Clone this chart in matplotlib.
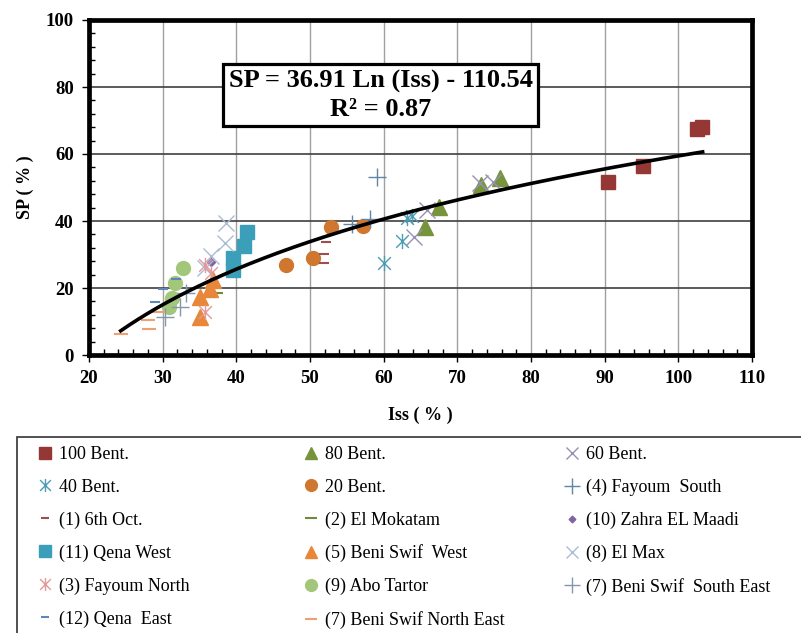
import numpy as np
import matplotlib
matplotlib.use("Agg")
import matplotlib.pyplot as plt
from matplotlib.path import Path
from matplotlib.lines import Line2D
from matplotlib.patches import Rectangle
from matplotlib.ticker import MultipleLocator

plt.rcParams['font.family'] = ['Liberation Serif', 'DejaVu Serif']

# trend: SP = 36.91 ln(Iss) - 110.54
coef_a = 36.91
coef_b = -110.54
trend_xmin, trend_xmax = 24.3, 103.3

# data (Iss %, SP %)
bent100_x = [90.4, 95.2, 102.5, 103.2]
bent100_y = [51.7, 56.4, 67.4, 68.1]
bent80_x = [65.6, 67.5, 73.2, 75.8]
bent80_y = [38.3, 44.3, 50.7, 52.7]
bent60_x = [64.1, 65.9, 73.1, 74.8]
bent60_y = [35.1, 43.3, 51.4, 51.7]
bent40_x = [60.0, 62.5, 63.1, 63.9]
bent40_y = [27.6, 34.1, 40.8, 41.5]
bent20_x = [46.7, 50.4, 52.9, 57.2]
bent20_y = [26.9, 29.0, 38.1, 38.5]
fayoum_s_x = [55.7, 58.1, 59.1]
fayoum_s_y = [39.1, 40.6, 53.2]
oct6_x = [51.9, 51.9, 52.2]
oct6_y = [27.4, 30.1, 33.6]
mokatam_x = [37.2]
mokatam_y = [18.6]
zahra_x = [36.6]
zahra_y = [27.8]
qena_w_x = [39.5, 39.6, 41.0, 41.5]
qena_w_y = [25.4, 28.9, 32.5, 36.8]
beni_w_x = [35.0, 35.1, 36.4, 36.8]
beni_w_y = [11.3, 17.4, 19.6, 22.4]
elmax_x = [35.8, 36.5, 38.4, 38.6]
elmax_y = [26.1, 29.6, 33.3, 39.3]
fayoum_n_x = [35.8, 35.8, 36.6]
fayoum_n_y = [12.9, 26.9, 24.4]
abo_x = [30.9, 31.2, 31.7, 32.7]
abo_y = [14.2, 16.9, 21.4, 26.1]
beni_se_x = [30.3, 32.3, 33.2]
beni_se_y = [11.3, 14.4, 18.4]
qena_e_x = [29.0, 30.1, 31.8]
qena_e_y = [15.9, 19.6, 22.7]
beni_ne_x = [24.3, 28.0, 28.2, 29.4]
beni_ne_y = [6.2, 10.4, 7.9, 12.9]

star = Path([(-1, -1), (1, 1), (-1, 1), (1, -1), (0, -1.2), (0, 1.2)],
            [Path.MOVETO, Path.LINETO, Path.MOVETO, Path.LINETO, Path.MOVETO, Path.LINETO])

# label, x, y, style
series = [
    ("100 Bent.", bent100_x, bent100_y, dict(marker='s', color='#953735', ms=10)),
    ("80 Bent.", bent80_x, bent80_y, dict(marker='^', color='#77933C', ms=11)),
    ("60 Bent.", bent60_x, bent60_y, dict(marker='x', color='#9590B4', ms=11, mew=1.0)),
    ("40 Bent.", bent40_x, bent40_y, dict(marker=star, color='#4A9DB5', ms=11, mew=1.0)),
    ("20 Bent.", bent20_x, bent20_y, dict(marker='o', color='#D0772F', ms=10)),
    ("(4) Fayoum  South", fayoum_s_x, fayoum_s_y, dict(marker='+', color='#5F86A8', ms=13, mew=1.0)),
    ("(1) 6th Oct.", oct6_x, oct6_y, dict(marker='_', color='#9B4F4F', ms=7, mew=1.5)),
    ("(2) El Mokatam", mokatam_x, mokatam_y, dict(marker='_', color='#6E8A3A', ms=10, mew=1.5)),
    ("(10) Zahra EL Maadi", zahra_x, zahra_y, dict(marker='D', color='#7F64A2', ms=4)),
    ("(11) Qena West", qena_w_x, qena_w_y, dict(marker='s', color='#3C9FBA', ms=10)),
    ("(5) Beni Swif  West", beni_w_x, beni_w_y, dict(marker='^', color='#E8873A', ms=11)),
    ("(8) El Max", elmax_x, elmax_y, dict(marker='x', color='#A9BCD8', ms=11, mew=1.0)),
    ("(3) Fayoum North", fayoum_n_x, fayoum_n_y, dict(marker=star, color='#E3999A', ms=11, mew=1.0)),
    ("(9) Abo Tartor", abo_x, abo_y, dict(marker='o', color='#A3C77A', ms=10)),
    ("(7) Beni Swif  South East", beni_se_x, beni_se_y, dict(marker='+', color='#8497B0', ms=13, mew=1.0)),
    ("(12) Qena  East", qena_e_x, qena_e_y, dict(marker='_', color='#5F86B8', ms=7, mew=1.5)),
    ("(7) Beni Swif North East", beni_ne_x, beni_ne_y, dict(marker='_', color='#F0A070', ms=10, mew=1.5)),
]

fig = plt.figure(figsize=(8.01, 6.33), dpi=100)
ax = fig.add_axes([89 / 801, 1 - 355 / 633, (752 - 89) / 801, (355 - 20) / 633])

handles = {}
for label, xs, ys, st in series:
    st = dict(st)
    ms = st.pop('ms')
    mew = st.pop('mew', 1.0)
    ax.plot(xs, ys, linestyle='none', markersize=ms, markeredgewidth=mew, zorder=3, **st)
    handles[label] = Line2D([], [], linestyle='none', markersize=ms * 0.85, markeredgewidth=mew, **st)

xt = np.linspace(trend_xmin, trend_xmax, 200)
ax.plot(xt, coef_a * np.log(xt) + coef_b, color='black', lw=2.6, zorder=4)

ax.text(59.6, 77.5, "SP = 36.91 Ln (Iss) - 110.54\nR\u00b2 = 0.87", ha='center', va='center',
        fontsize=19, fontweight='bold', linespacing=1.25, zorder=5,
        bbox=dict(boxstyle='square,pad=0.2', facecolor='white', edgecolor='black', linewidth=2.3))

ax.set_xlim(20, 110)
ax.set_ylim(0, 100)
ax.xaxis.set_major_locator(MultipleLocator(10))
ax.xaxis.set_minor_locator(MultipleLocator(2))
ax.yaxis.set_major_locator(MultipleLocator(20))
ax.yaxis.set_minor_locator(MultipleLocator(4))
ax.tick_params(which='major', direction='out', length=5, width=1, labelsize=13.5, pad=6)
ax.tick_params(which='minor', direction='in', length=4, width=1)
for lab in ax.get_xticklabels() + ax.get_yticklabels():
    lab.set_fontweight('bold')
ax.xaxis.grid(True, which='major', color='#A0A0A0', lw=1)
ax.yaxis.grid(True, which='major', color='#404040', lw=1.2)
ax.set_axisbelow(True)
for sp in ax.spines.values():
    sp.set_linewidth(3.4)
    sp.set_zorder(6)

ax.set_xlabel("Iss ( % )", fontsize=13, fontweight='bold', labelpad=14)
ax.set_ylabel("SP ( % )", fontsize=13, fontweight='bold', labelpad=8)

# legend frame, open to the right and bottom
fig.patches.append(Rectangle((17 / 801, -0.2), 1.2, 0.2 + 1 - 437 / 633, transform=fig.transFigure,
                             facecolor='none', edgecolor='#333333', lw=1.2))

cols = [
    ["100 Bent.", "40 Bent.", "(1) 6th Oct.", "(11) Qena West", "(3) Fayoum North", "(12) Qena  East"],
    ["80 Bent.", "20 Bent.", "(2) El Mokatam", "(5) Beni Swif  West", "(9) Abo Tartor", "(7) Beni Swif North East"],
    ["60 Bent.", "(4) Fayoum  South", "(10) Zahra EL Maadi", "(8) El Max", "(7) Beni Swif  South East"],
]
col_x = [36 / 801, 302 / 801, 563 / 801]
for cx, labels in zip(col_x, cols):
    fig.legend([handles[l] for l in labels], labels, loc='upper left', bbox_to_anchor=(cx, 1 - 446 / 633),
               frameon=False, fontsize=13, handlelength=1.0, handletextpad=0.3,
               labelspacing=0.87, borderpad=0, borderaxespad=0)

fig.savefig("out.png", dpi=100)
